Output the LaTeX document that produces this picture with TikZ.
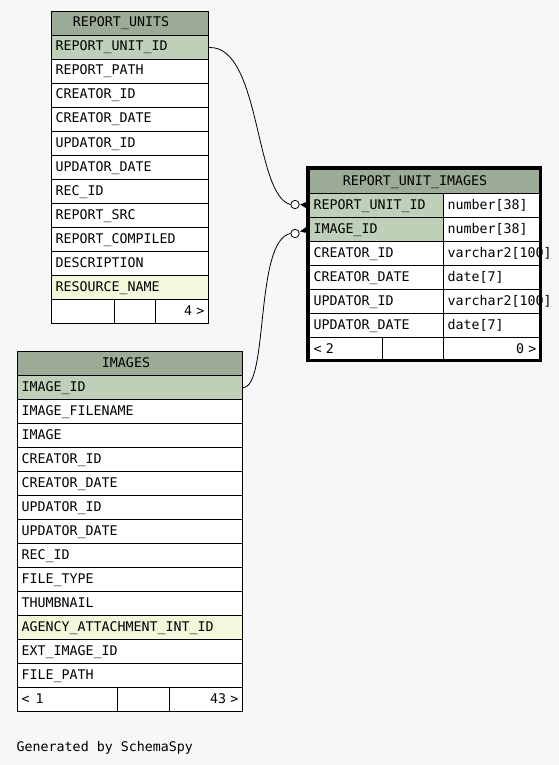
\documentclass[tikz,border=0pt]{standalone}
\usepackage{fontspec}
\newfontfamily\mono{DejaVu Sans Mono}
\usetikzlibrary{calc}
\definecolor{bg}{HTML}{F7F7F7}
\definecolor{hdr}{HTML}{9BAB96}
\definecolor{pk}{HTML}{BED1B8}
\definecolor{idx}{HTML}{F5F7DC}
\begin{document}
\begin{tikzpicture}[x=1pt,y=-1pt,
  cell/.style={draw=black, line width=1pt, rectangle, inner xsep=4pt, inner ysep=0pt,
    anchor=north west, minimum height=24pt, text height=10pt, text depth=3pt,
    font=\mono\fontsize{13.3}{16}\selectfont, fill=white, align=left},
  rcell/.style={cell, align=right},
  title/.style={anchor=base, inner sep=0pt, font=\mono\fontsize{13.3}{16}\selectfont},
  conn/.style={draw=black, line width=0.8pt},
  odot/.style={circle, draw=black, line width=0.8pt, fill=white, minimum size=8.4pt, inner sep=0pt},
  crow/.style={fill=black}]
\useasboundingbox[fill=bg] (0,0) rectangle (559,765);

% ---------- REPORT_UNITS ----------
\node[cell, fill=hdr, text width=149pt] (ru-h) at (51,11) {};
\node[title] (ru-t) at (121,27) {REPORT\_UNITS};
\foreach [count=\i] \n/\f in {REPORT\_UNIT\_ID/pk, REPORT\_PATH/white, CREATOR\_ID/white,
  CREATOR\_DATE/white, UPDATOR\_ID/white, UPDATOR\_DATE/white, REC\_ID/white,
  REPORT\_SRC/white, REPORT\_COMPILED/white, DESCRIPTION/white, RESOURCE\_NAME/idx}
  \node[cell, fill=\f, text width=149pt] (ru-\i) at (51,{35+24*(\i-1)}) {\n};
\node[cell, text width=55pt] (ru-f1) at (51,299) {};
\node[cell, text width=33pt] (ru-f2) at (114,299) {};
\node[rcell, text width=45pt] (ru-f3) at (155,299) {4 >};

% ---------- IMAGES ----------
\node[cell, fill=hdr, text width=217pt] (im-h) at (17,351) {};
\node[title] (im-t) at (126,367) {IMAGES};
\foreach [count=\i] \n/\f in {IMAGE\_ID/pk, IMAGE\_FILENAME/white, IMAGE/white,
  CREATOR\_ID/white, CREATOR\_DATE/white, UPDATOR\_ID/white, UPDATOR\_DATE/white,
  REC\_ID/white, FILE\_TYPE/white, THUMBNAIL/white, AGENCY\_ATTACHMENT\_INT\_ID/idx,
  EXT\_IMAGE\_ID/white, FILE\_PATH/white}
  \node[cell, fill=\f, text width=217pt] (im-\i) at (17,{375+24*(\i-1)}) {\n};
\node[cell, text width=92pt] (im-f1) at (17,687) {<\hspace{6pt}1};
\node[cell, text width=44pt] (im-f2) at (117,687) {};
\node[rcell, text width=65pt] (im-f3) at (169,687) {43 >};

% ---------- REPORT_UNIT_IMAGES ----------
\node[cell, fill=hdr, text width=223pt] (rui-h) at (309,169) {};
\node[title] (rui-t) at (415,185) {REPORT\_UNIT\_IMAGES};
\foreach [count=\i] \n/\t/\f in {REPORT\_UNIT\_ID/number[38]/pk, IMAGE\_ID/number[38]/pk,
  CREATOR\_ID/varchar2[100]/white, CREATOR\_DATE/date[7]/white,
  UPDATOR\_ID/varchar2[100]/white, UPDATOR\_DATE/date[7]/white}
{
  \node[cell, fill=\f, text width=126pt] (rui-\i) at (309,{193+24*(\i-1)}) {\n};
  \node[cell, text width=89pt] (rui-\i t) at (443,{193+24*(\i-1)}) {\t};
}
\node[cell, text width=65pt] (rui-f1) at (309,337) {< 2};
\node[cell, text width=53pt] (rui-f2) at (382,337) {};
\node[rcell, text width=89pt] (rui-f3) at (443,337) {0 >};
\draw[line width=3pt] (307.5,167.3) rectangle (540.5,360);

% ---------- connectors ----------
\node[odot] (c1) at ($(rui-1.west)+(-14,-1)$) {};
\node[odot] (c2) at ($(rui-2.west)+(-14,4)$) {};
\draw[conn] (ru-1.east) .. controls +(52,-2) and +(-36,-9) .. (c1.west);
\draw[conn] (im-1.east) .. controls +(26,0) and +(-36,7) .. (c2.west);
\fill[crow] ($(c1.east)+(0.6,0)$) -- ([yshift=4.5pt]rui-1.west) -- ([yshift=-4.5pt]rui-1.west) -- cycle;
\fill[crow] ($(c2.east)+(0.4,-2)$) -- ([yshift=4.5pt]rui-2.west) -- ([yshift=-4pt]rui-2.west) -- cycle;

\node[anchor=base west, inner sep=0pt, font=\mono\fontsize{13.3}{16}\selectfont] (gen) at (16.5,751) {Generated by SchemaSpy};
\end{tikzpicture}
\end{document}
